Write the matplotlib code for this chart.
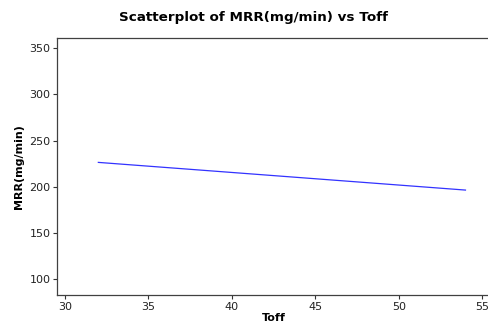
import matplotlib
matplotlib.use('Agg')
import matplotlib.pyplot as plt

# fitted line end points
toff = [32, 54]
mrr = [226.4, 196.4]

xticks = [30, 35, 40, 45, 50, 55]
yticks = [100, 150, 200, 250, 300, 350]

W, H = 488, 327
fig = plt.figure(figsize=(W / 100, H / 100), dpi=100)
# axes in pixel coords: left 57, right past the image edge, top 38, bottom 295
ax = fig.add_axes([57.3 / W, (H - 295) / H, (490 - 57.3) / W, (295 - 38) / H])

ax.plot(toff, mrr, color='#3333ff', linewidth=0.9)

ax.set_xlim(29.54, 55.47)
ax.set_ylim(82.7, 361.2)
ax.set_xticks(xticks)
ax.set_yticks(yticks)
ax.tick_params(direction='out', length=3, width=0.8, colors='#333333',
               labelsize=8, labelcolor='#222222', pad=2)
for s in ['left', 'bottom', 'top']:
    ax.spines[s].set_color('#404040')
    ax.spines[s].set_linewidth(0.9)
ax.spines['right'].set_visible(False)

ax.set_xlabel('Toff', fontsize=8, fontweight='bold', labelpad=1)
ax.set_ylabel('MRR(mg/min)', fontsize=8, fontweight='bold', labelpad=4)
fig.text(254 / W, 1 - 17 / H, 'Scatterplot of MRR(mg/min) vs Toff',
         ha='center', va='center', fontsize=9.7, fontweight='bold')

fig.savefig('out.png', dpi=100)
